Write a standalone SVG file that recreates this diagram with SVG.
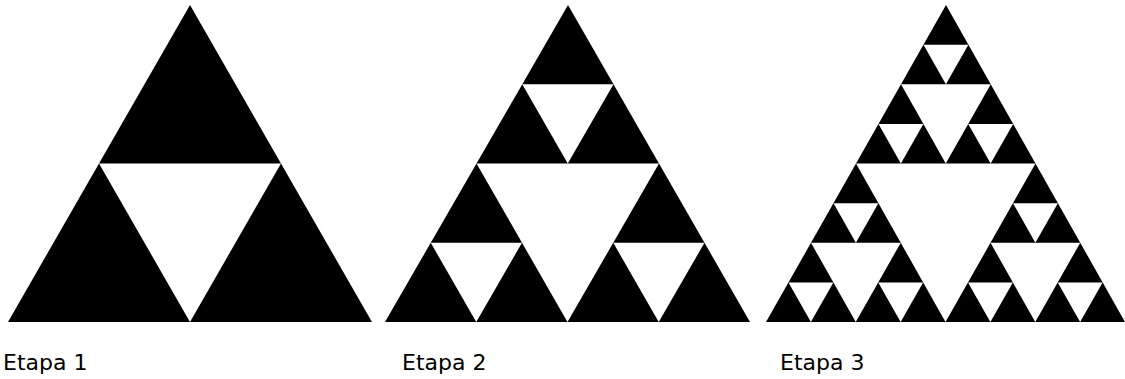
<svg xmlns="http://www.w3.org/2000/svg" width="1125" height="379" viewBox="0 0 1125 379">
<style>
.blk{fill:#000}
.wht{fill:#fff}
.lbl{font-family:"DejaVu Sans","Liberation Sans",sans-serif;font-size:22px;fill:#000}
</style>
<defs>
<g id="lv1"><polygon class="wht" points="0.5,0 0,0.5 0.5,0.5"/></g>
<g id="lv2">
<polygon class="wht" points="0.25,0 0,0.25 0.25,0.25"/>
<polygon class="wht" points="0.75,0 0.5,0.25 0.75,0.25"/>
<polygon class="wht" points="0.25,0.5 0,0.75 0.25,0.75"/>
</g>
<g id="lv3">
<polygon class="wht" points="0.125,0 0,0.125 0.125,0.125"/>
<polygon class="wht" points="0.375,0 0.25,0.125 0.375,0.125"/>
<polygon class="wht" points="0.125,0.25 0,0.375 0.125,0.375"/>
<polygon class="wht" points="0.625,0 0.5,0.125 0.625,0.125"/>
<polygon class="wht" points="0.875,0 0.75,0.125 0.875,0.125"/>
<polygon class="wht" points="0.625,0.25 0.5,0.375 0.625,0.375"/>
<polygon class="wht" points="0.125,0.5 0,0.625 0.125,0.625"/>
<polygon class="wht" points="0.375,0.5 0.25,0.625 0.375,0.625"/>
<polygon class="wht" points="0.125,0.75 0,0.875 0.125,0.875"/>
</g>
</defs>
<rect width="1125" height="379" fill="#fff"/>
<g id="stage1" transform="matrix(364,0,182,-317,8,322)">
<polygon class="blk" points="0,0 1,0 0,1"/>
<use href="#lv1"/>
</g>
<g id="stage2" transform="matrix(365,0,183,-317,385,322)">
<polygon class="blk" points="0,0 1,0 0,1"/>
<use href="#lv1"/>
<use href="#lv2"/>
</g>
<g id="stage3" transform="matrix(359,0,180,-317,766,322)">
<polygon class="blk" points="0,0 1,0 0,1"/>
<use href="#lv1"/>
<use href="#lv2"/>
<use href="#lv3"/>
</g>
<text class="lbl" x="3" y="370">Etapa 1</text>
<text class="lbl" x="402" y="370">Etapa 2</text>
<text class="lbl" x="780" y="370">Etapa 3</text>
</svg>
